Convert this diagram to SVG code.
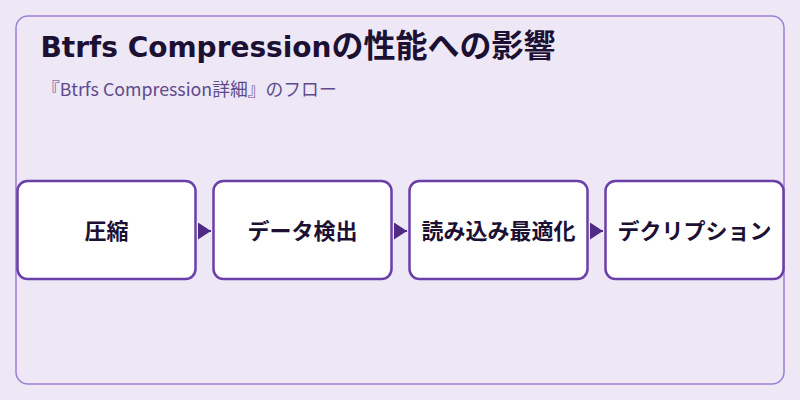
<svg xmlns="http://www.w3.org/2000/svg" width="800" height="400" viewBox="0 0 800 400">
  <style>
    .title { font-family: "DejaVu Sans", "Noto Sans CJK JP", sans-serif; font-weight: 700; font-size: 28px; fill: #1c1033; }
    .title .cjk { font-family: "Noto Sans CJK JP", sans-serif; font-size: 32px; }
    .sub { font-family: "Noto Sans CJK JP", "Noto Sans", sans-serif; font-size: 17.8px; fill: #5e4b8b; }
    .node rect { fill: #ffffff; stroke: #6a3fa8; stroke-width: 2.5; }
    .node text { font-family: "Noto Sans CJK JP", "Noto Sans", sans-serif; font-weight: 700; font-size: 22px; fill: #1c1033; text-anchor: middle; }
    .edge { stroke: #4f2b86; stroke-width: 2; fill: none; }
  </style>
  <defs>
    <marker id="arrow" markerWidth="13" markerHeight="17" refX="13" refY="8.5" orient="auto" markerUnits="userSpaceOnUse">
      <path d="M0,0 L13,8.5 L0,17 Z" fill="#4f2b86"/>
    </marker>
  </defs>
  <rect x="0" y="0" width="800" height="400" fill="#ede7f6"/>
  <rect x="16" y="16" width="768" height="368" rx="12" fill="#ede7f6" stroke="#9c7fd2" stroke-width="1.5"/>
  <text class="title" x="40.5" y="56.5">Btrfs Compression<tspan class="cjk">の性能への影響</tspan></text>
  <text class="sub" x="42" y="95.5">『Btrfs Compression詳細』のフロー</text>
  <g id="connectors">
    <line class="edge" x1="198" y1="231" x2="211" y2="231" marker-end="url(#arrow)"/>
    <line class="edge" x1="394" y1="231" x2="407" y2="231" marker-end="url(#arrow)"/>
    <line class="edge" x1="590" y1="231" x2="603" y2="231" marker-end="url(#arrow)"/>
  </g>
  <g id="node1" class="node">
    <rect x="17.5" y="181" width="178" height="98" rx="10"/>
    <text x="106.5" y="239">圧縮</text>
  </g>
  <g id="node2" class="node">
    <rect x="213.5" y="181" width="178" height="98" rx="10"/>
    <text x="302.5" y="239">データ検出</text>
  </g>
  <g id="node3" class="node">
    <rect x="409.5" y="181" width="178" height="98" rx="10"/>
    <text x="498.5" y="239">読み込み最適化</text>
  </g>
  <g id="node4" class="node">
    <rect x="605.5" y="181" width="178" height="98" rx="10"/>
    <text x="694.5" y="239">デクリプション</text>
  </g>
</svg>
